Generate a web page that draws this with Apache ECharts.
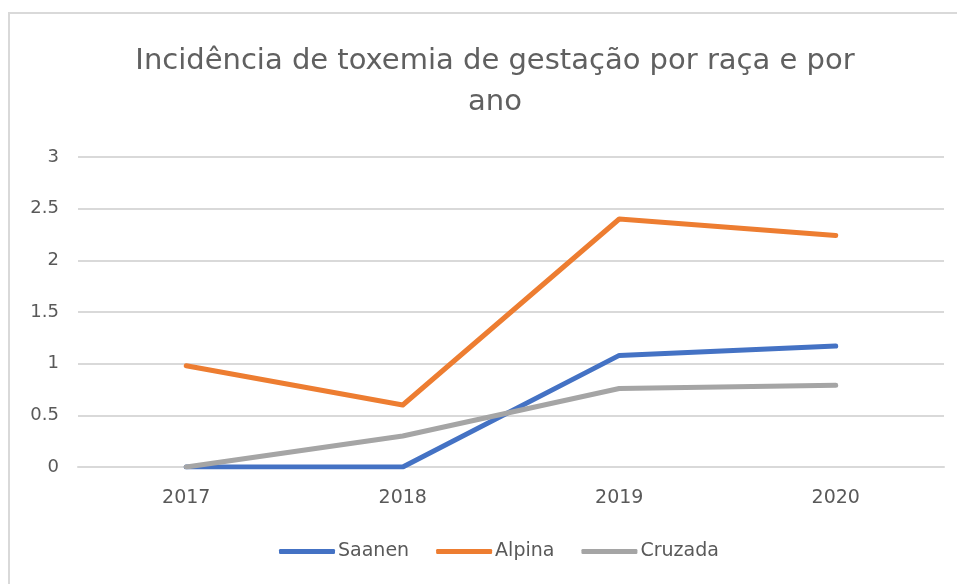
<!DOCTYPE html>
<html>
<head>
  <meta charset="UTF-8">
  <title>Incidência de toxemia</title>
  <script src="https://cdn.jsdelivr.net/npm/echarts@6/dist/echarts.min.js"></script>
  <style>
  body { margin: 0; background: #fff; }
  #chart { width: 957px; height: 584px; }
  </style>
</head>
<body>
  <div id="chart"></div>
<script>
var anos = ['2017', '2018', '2019', '2020'];
var saanen = [0, 0, 1.08, 1.17];
var alpina = [0.98, 0.6, 2.4, 2.24];
var cruzada = [0, 0.3, 0.76, 0.79];

var cinza = '#595959';
var fonte = 'DejaVu Sans';
var chart = echarts.init(document.getElementById('chart'));

function serie(nome, dados, cor) {
  return {
    name: nome,
    type: 'line',
    data: dados,
    symbol: 'none',
    itemStyle: { color: cor },
    lineStyle: { color: cor, width: 5, cap: 'round', join: 'round' }
  };
}

var option = {
  animation: false,
  graphic: [{
    type: 'rect',
    shape: { x: 9, y: 13, width: 980, height: 600 },
    style: { fill: 'none', stroke: '#d9d9d9', lineWidth: 2 },
    silent: true
  }],
  title: {
    text: 'Incidência de toxemia de gestação por raça e por\nano',
    left: 490,
    top: 36,
    textAlign: 'center',
    textStyle: {
      fontFamily: fonte,
      fontWeight: 'normal',
      fontSize: 29,
      lineHeight: 41,
      color: '#606060'
    }
  },
  legend: {
    bottom: 18,
    left: 274,
    icon: 'roundRect',
    itemWidth: 56,
    itemHeight: 5,
    itemGap: 27,
    textStyle: { fontFamily: fonte, fontSize: 19, color: cinza, padding: [0, 0, 0, -2] },
    data: ['Saanen', 'Alpina', 'Cruzada']
  },
  grid: { left: 78, right: 13, top: 157, bottom: 117, containLabel: false },
  xAxis: {
    type: 'category',
    data: anos,
    axisLine: { lineStyle: { color: '#d9d9d9', width: 2 } },
    axisTick: { show: false },
    axisLabel: { fontFamily: fonte, fontSize: 19, color: cinza, margin: 22 }
  },
  yAxis: {
    type: 'value',
    min: 0,
    max: 3,
    interval: 0.5,
    axisLine: { show: false },
    axisTick: { show: false },
    splitLine: { lineStyle: { color: '#d9d9d9', width: 2 } },
    axisLabel: { fontFamily: fonte, fontSize: 18, color: cinza, margin: 19 }
  },
  series: [
    serie('Saanen', saanen, '#4472c4'),
    serie('Alpina', alpina, '#ed7d31'),
    serie('Cruzada', cruzada, '#a5a5a5')
  ]
};

chart.setOption(option);
</script>
</body>
</html>
